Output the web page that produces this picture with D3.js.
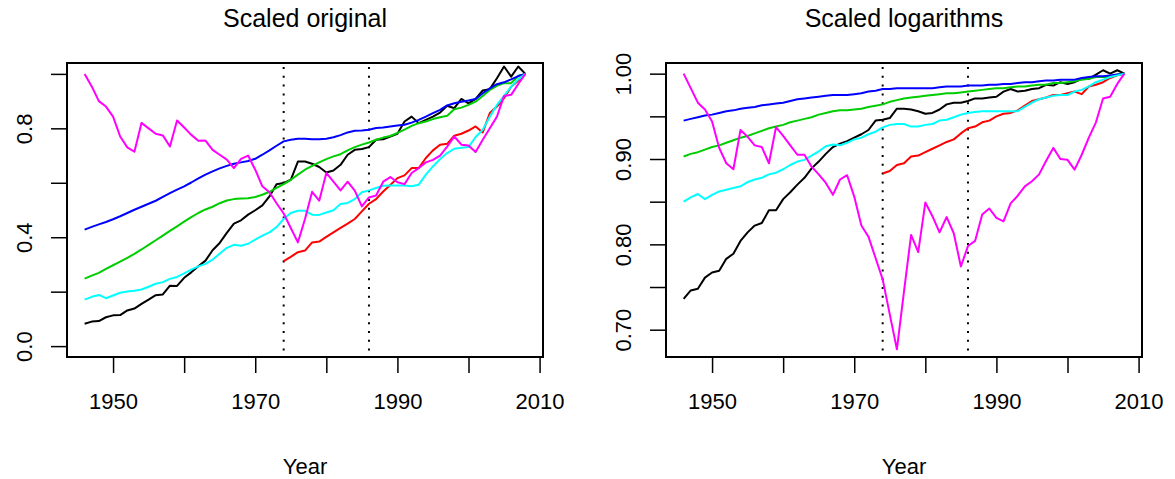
<!DOCTYPE html>
<html>
<head>
<meta charset="utf-8">
<script src="https://cdn.jsdelivr.net/npm/d3@7"></script>
<style>
  body { margin: 0; background: #fff; }
  svg text { font-family: "Liberation Sans", Arial, Helvetica, sans-serif; fill: #000; }
</style>
</head>
<body>
<div id="chart"></div>
<script>
const years = [1946, 1947, 1948, 1949, 1950, 1951, 1952, 1953, 1954, 1955, 1956, 1957, 1958, 1959, 1960,
  1961, 1962, 1963, 1964, 1965, 1966, 1967, 1968, 1969, 1970, 1971, 1972, 1973, 1974, 1975, 1976, 1977,
  1978, 1979, 1980, 1981, 1982, 1983, 1984, 1985, 1986, 1987, 1988, 1989, 1990, 1991, 1992, 1993, 1994,
  1995, 1996, 1997, 1998, 1999, 2000, 2001, 2002, 2003, 2004, 2005, 2006, 2007, 2008];

// Scaled original (value / value in 2008)
const blackOrig = [0.082, 0.09, 0.092, 0.106, 0.113, 0.114, 0.131, 0.138, 0.155, 0.171, 0.187, 0.19, 0.222, 0.221, 0.251,
  0.271, 0.293, 0.314, 0.352, 0.379, 0.416, 0.45, 0.462, 0.483, 0.499, 0.517, 0.55, 0.595, 0.599, 0.611, 0.678, 0.678,
  0.67, 0.658, 0.638, 0.645, 0.666, 0.703, 0.721, 0.724, 0.731, 0.758, 0.76, 0.77, 0.78, 0.825, 0.843, 0.819, 0.831,
  0.843, 0.858, 0.883, 0.874, 0.908, 0.892, 0.908, 0.939, 0.944, 0.984, 1.027, 0.99, 1.027, 1.0];
const redOrig = [null, null, null, null, null, null, null, null, null, null, null, null, null, null, null,
  null, null, null, null, null, null, null, null, null, null, null, null, null, 0.312, 0.328, 0.345, 0.351,
  0.381, 0.384, 0.401, 0.418, 0.434, 0.45, 0.467, 0.495, 0.523, 0.54, 0.568, 0.592, 0.617, 0.627, 0.654, 0.654, 0.691,
  0.719, 0.74, 0.743, 0.773, 0.78, 0.792, 0.807, 0.785, 0.856, 0.88, 0.911, 0.953, 0.975, 1.0];
const greenOrig = [0.248, 0.259, 0.269, 0.284, 0.297, 0.31, 0.324, 0.339, 0.355, 0.372, 0.389, 0.406, 0.423, 0.44, 0.457,
  0.474, 0.489, 0.502, 0.512, 0.525, 0.535, 0.54, 0.542, 0.543, 0.548, 0.556, 0.567, 0.581, 0.595, 0.611, 0.63, 0.648,
  0.662, 0.675, 0.687, 0.697, 0.705, 0.719, 0.731, 0.74, 0.748, 0.758, 0.766, 0.772, 0.783, 0.795, 0.809, 0.819, 0.825,
  0.834, 0.841, 0.846, 0.87, 0.876, 0.886, 0.898, 0.919, 0.941, 0.956, 0.966, 0.966, 0.992, 1.0];
const blueOrig = [0.428, 0.438, 0.447, 0.456, 0.466, 0.477, 0.489, 0.501, 0.512, 0.523, 0.534, 0.548, 0.562, 0.575, 0.587,
  0.601, 0.616, 0.63, 0.642, 0.653, 0.662, 0.67, 0.675, 0.68, 0.688, 0.703, 0.719, 0.736, 0.752, 0.758, 0.762, 0.762,
  0.76, 0.76, 0.762, 0.767, 0.775, 0.785, 0.791, 0.792, 0.795, 0.801, 0.803, 0.807, 0.81, 0.813, 0.821, 0.831, 0.843,
  0.856, 0.868, 0.884, 0.892, 0.898, 0.902, 0.908, 0.929, 0.947, 0.962, 0.969, 0.98, 0.992, 1.0];
const cyanOrig = [0.171, 0.181, 0.188, 0.176, 0.186, 0.196, 0.201, 0.203, 0.208, 0.218, 0.229, 0.235, 0.247, 0.254, 0.267,
  0.281, 0.293, 0.302, 0.318, 0.339, 0.361, 0.372, 0.369, 0.376, 0.391, 0.406, 0.418, 0.437, 0.467, 0.489, 0.497, 0.497,
  0.483, 0.482, 0.491, 0.499, 0.522, 0.526, 0.54, 0.565, 0.572, 0.581, 0.589, 0.59, 0.59, 0.59, 0.587, 0.593, 0.63,
  0.66, 0.687, 0.709, 0.725, 0.729, 0.731, 0.768, 0.795, 0.843, 0.886, 0.919, 0.953, 0.98, 1.0];
const magentaOrig = [1.0, 0.954, 0.9, 0.88, 0.843, 0.77, 0.73, 0.714, 0.82, 0.8, 0.78, 0.774, 0.733, 0.829, 0.803,
  0.776, 0.754, 0.755, 0.721, 0.703, 0.685, 0.654, 0.688, 0.7, 0.648, 0.587, 0.565, 0.525, 0.487, 0.434, 0.381, 0.467,
  0.567, 0.534, 0.636, 0.604, 0.572, 0.604, 0.571, 0.513, 0.546, 0.553, 0.604, 0.621, 0.602, 0.595, 0.636, 0.654, 0.675,
  0.684, 0.7, 0.733, 0.77, 0.74, 0.737, 0.713, 0.758, 0.8, 0.843, 0.919, 0.923, 0.963, 1.0];

// Scaled logarithms (log value / log value in 2008)
const blackLog = [0.736, 0.746, 0.748, 0.761, 0.767, 0.769, 0.783, 0.789, 0.804, 0.814, 0.822, 0.825, 0.84, 0.84, 0.853,
  0.861, 0.87, 0.878, 0.889, 0.897, 0.906, 0.914, 0.918, 0.921, 0.925, 0.929, 0.934, 0.945, 0.946, 0.948, 0.959, 0.959,
  0.958, 0.956, 0.953, 0.954, 0.958, 0.964, 0.966, 0.966, 0.968, 0.971, 0.971, 0.972, 0.973, 0.979, 0.982, 0.979, 0.98,
  0.982, 0.983, 0.987, 0.986, 0.99, 0.988, 0.99, 0.994, 0.994, 0.999, 1.004, 1.0, 1.004, 1.0];
const redLog = [null, null, null, null, null, null, null, null, null, null, null, null, null, null, null,
  null, null, null, null, null, null, null, null, null, null, null, null, null, 0.883, 0.886, 0.893, 0.895,
  0.903, 0.904, 0.908, 0.912, 0.916, 0.92, 0.923, 0.93, 0.936, 0.938, 0.943, 0.945, 0.95, 0.953, 0.954, 0.957, 0.9625,
  0.968, 0.97, 0.972, 0.975, 0.975, 0.977, 0.979, 0.976, 0.985, 0.987, 0.99, 0.995, 0.998, 1.0];
const greenLog = [0.903, 0.906, 0.908, 0.911, 0.914, 0.916, 0.919, 0.922, 0.925, 0.927, 0.93, 0.933, 0.936, 0.938, 0.94,
  0.943, 0.945, 0.947, 0.949, 0.952, 0.954, 0.956, 0.957, 0.957, 0.958, 0.959, 0.961, 0.9625, 0.964, 0.967, 0.969, 0.971,
  0.972, 0.973, 0.974, 0.975, 0.976, 0.977, 0.977, 0.978, 0.979, 0.98, 0.981, 0.982, 0.983, 0.983, 0.984, 0.985, 0.985,
  0.986, 0.987, 0.987, 0.989, 0.989, 0.99, 0.991, 0.993, 0.994, 0.996, 0.996, 0.996, 0.999, 1.0];
const blueLog = [0.945, 0.947, 0.949, 0.951, 0.952, 0.954, 0.956, 0.957, 0.959, 0.96, 0.961, 0.963, 0.964, 0.965, 0.966,
  0.968, 0.97, 0.971, 0.972, 0.973, 0.974, 0.975, 0.975, 0.975, 0.976, 0.977, 0.979, 0.98, 0.982, 0.982, 0.983, 0.983,
  0.983, 0.983, 0.983, 0.983, 0.984, 0.985, 0.985, 0.985, 0.986, 0.986, 0.986, 0.987, 0.987, 0.988, 0.988, 0.989, 0.99,
  0.99, 0.991, 0.992, 0.992, 0.993, 0.993, 0.993, 0.995, 0.996, 0.997, 0.997, 0.998, 0.999, 1.0];
const cyanLog = [0.85, 0.855, 0.859, 0.853, 0.858, 0.862, 0.864, 0.866, 0.868, 0.873, 0.876, 0.878, 0.882, 0.884, 0.888,
  0.893, 0.897, 0.899, 0.904, 0.909, 0.915, 0.917, 0.916, 0.919, 0.923, 0.925, 0.929, 0.932, 0.937, 0.94, 0.941, 0.941,
  0.938, 0.938, 0.94, 0.941, 0.945, 0.946, 0.949, 0.952, 0.954, 0.955, 0.956, 0.956, 0.956, 0.956, 0.956, 0.956, 0.961,
  0.966, 0.97, 0.972, 0.974, 0.975, 0.975, 0.979, 0.981, 0.985, 0.99, 0.993, 0.996, 0.998, 1.0];
const magentaLog = [1.0, 0.983, 0.966, 0.958, 0.944, 0.913, 0.895, 0.888, 0.934, 0.926, 0.916, 0.914, 0.895, 0.9375, 0.927,
  0.916, 0.905, 0.905, 0.891, 0.882, 0.872, 0.858, 0.876, 0.881, 0.856, 0.822, 0.809, 0.784, 0.759, 0.718, 0.677, 0.745,
  0.811, 0.791, 0.849, 0.833, 0.814, 0.832, 0.813, 0.774, 0.798, 0.804, 0.835, 0.842, 0.831, 0.827, 0.848, 0.857, 0.868,
  0.874, 0.882, 0.898, 0.913, 0.9, 0.899, 0.8875, 0.905, 0.925, 0.943, 0.971, 0.973, 0.988, 1.0];

const colors = ['#000000', '#FF0000', '#00CD00', '#0000FF', '#00FFFF', '#FF00FF'];
const xTicks = [1950, 1960, 1970, 1980, 1990, 2000, 2010];
const xLabels = [1950, 1970, 1990, 2010];
const breakYears = [1974, 1986];

const width = 1175;
const height = 479;
const plotTop = 63;
const plotBottom = 357;
const tickSize = 16;
const lineWidth = 2;

const panels = [
  {
    title: 'Scaled original',
    left: 67, right: 543,
    yDomain: [-0.04, 1.04],
    yTicks: [0, 0.2, 0.4, 0.6, 0.8, 1.0],
    yLabels: [0, 0.4, 0.8],
    yFormat: d3.format('.1f'),
    series: [blackOrig, redOrig, greenOrig, blueOrig, cyanOrig, magentaOrig]
  },
  {
    title: 'Scaled logarithms',
    left: 666, right: 1142,
    yDomain: [0.668, 1.0125],
    yTicks: [0.70, 0.75, 0.80, 0.85, 0.90, 0.95, 1.00],
    yLabels: [0.70, 0.80, 0.90, 1.00],
    yFormat: d3.format('.2f'),
    series: [blackLog, redLog, greenLog, blueLog, cyanLog, magentaLog]
  }
];

const svg = d3.select('#chart')
  .append('svg')
  .attr('width', width)
  .attr('height', height);

panels.forEach(function(p, i) {
  drawPanel(p, i);
});

function drawPanel(p, i) {
  // R style: 4% padding around the data range
  let pad = (years[years.length - 1] - years[0]) * 0.04;
  let x = d3.scaleLinear()
    .domain([years[0] - pad, years[years.length - 1] + pad])
    .range([p.left, p.right]);
  let y = d3.scaleLinear()
    .domain(p.yDomain)
    .range([plotBottom, plotTop]);

  let clipId = 'clip' + i;
  svg.append('clipPath')
    .attr('id', clipId)
    .append('rect')
    .attr('x', p.left)
    .attr('y', plotTop)
    .attr('width', p.right - p.left)
    .attr('height', plotBottom - plotTop);

  let g = svg.append('g').attr('clip-path', 'url(#' + clipId + ')');

  // dotted lines at the break years
  g.selectAll('line.break')
    .data(breakYears)
    .enter().append('line')
    .attr('class', 'break')
    .attr('x1', function(d) { return x(d); })
    .attr('x2', function(d) { return x(d); })
    .attr('y1', plotTop + 4)
    .attr('y2', plotBottom - 4)
    .style('stroke', '#000')
    .style('stroke-width', 2)
    .style('stroke-dasharray', '2,6.8');

  let line = d3.line()
    .defined(function(d) { return d != null; })
    .x(function(d, j) { return x(years[j]); })
    .y(function(d) { return y(d); });

  g.selectAll('path.series')
    .data(p.series)
    .enter().append('path')
    .attr('class', 'series')
    .attr('d', line)
    .style('fill', 'none')
    .style('stroke', function(d, j) { return colors[j]; })
    .style('stroke-width', lineWidth)
    .style('stroke-linejoin', 'round');

  // box
  svg.append('rect')
    .attr('x', p.left)
    .attr('y', plotTop)
    .attr('width', p.right - p.left)
    .attr('height', plotBottom - plotTop)
    .style('fill', 'none')
    .style('stroke', '#000')
    .style('stroke-width', 2);

  // x axis
  let xAxis = svg.append('g')
    .attr('transform', 'translate(0,' + plotBottom + ')')
    .call(d3.axisBottom(x)
      .tickValues(xTicks)
      .tickSize(tickSize)
      .tickPadding(20)
      .tickFormat(function(d) { return xLabels.indexOf(d) >= 0 ? d : ''; }));
  xAxis.select('.domain').remove();
  xAxis.selectAll('line').style('stroke-width', 1.5);
  xAxis.selectAll('text')
    .style('font-size', '22px');

  // y axis, labels turned like R does
  let yAxis = svg.append('g')
    .attr('transform', 'translate(' + p.left + ',0)')
    .call(d3.axisLeft(y)
      .tickValues(p.yTicks)
      .tickSize(tickSize)
      .tickFormat(function(d) {
        return p.yLabels.some(function(v) { return Math.abs(v - d) < 1e-9; }) ? p.yFormat(d) : '';
      }));
  yAxis.select('.domain').remove();
  yAxis.selectAll('line').style('stroke-width', 1.5);
  yAxis.selectAll('text')
    .attr('x', null)
    .attr('dy', null)
    .attr('transform', 'translate(-35,0) rotate(-90)')
    .attr('text-anchor', 'middle')
    .style('font-size', '22px');

  // titles
  svg.append('text')
    .attr('x', (p.left + p.right) / 2)
    .attr('y', 27)
    .attr('text-anchor', 'middle')
    .style('font-size', '25px')
    .text(p.title);

  svg.append('text')
    .attr('x', (p.left + p.right) / 2)
    .attr('y', 474)
    .attr('text-anchor', 'middle')
    .style('font-size', '22px')
    .text('Year');
}
</script>
</body>
</html>
